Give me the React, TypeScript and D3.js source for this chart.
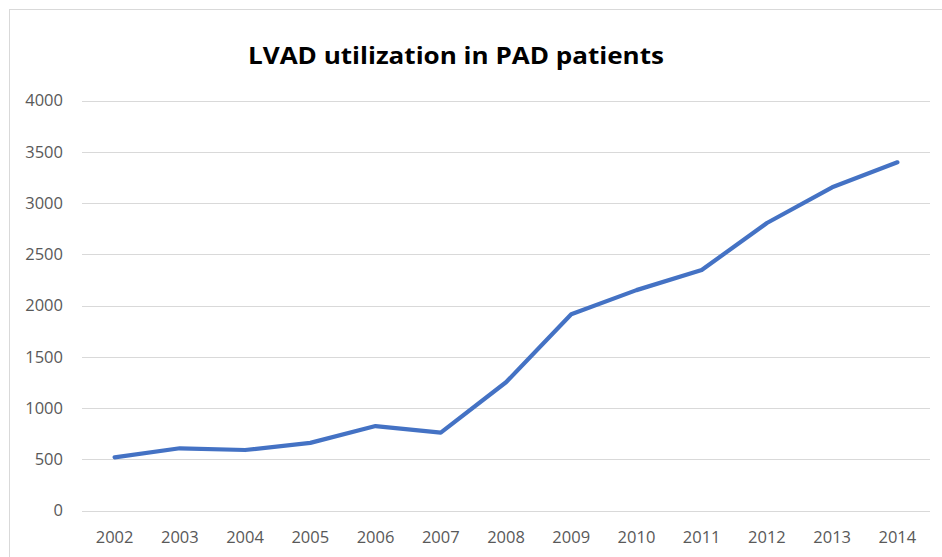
import React from "react";
import * as d3 from "d3";

const years = ["2002","2003","2004","2005","2006","2007","2008","2009","2010","2011","2012","2013","2014"];
const values = [519, 607, 590, 660, 824, 759, 1251, 1915, 2150, 2346, 2805, 3153, 3397];
const yTicks = [0, 500, 1000, 1500, 2000, 2500, 3000, 3500, 4000];
const title = "LVAD utilization in PAD patients";

const W = 942, H = 557;
const plot = { left: 82, right: 930, top: 100.5, bottom: 510.5 };

export default function App() {
  const x = d3.scaleBand<string>().domain(years).range([plot.left, plot.right]);
  const y = d3.scaleLinear().domain([0, 4000]).range([plot.bottom, plot.top]);
  const line = d3.line<number>()
    .x((_, i) => (x(years[i]) as number) + x.bandwidth() / 2)
    .y((d) => y(d));
  const font = "'Open Sans', 'Liberation Sans', sans-serif";
  return (
    <svg width={W} height={H} style={{ position: "absolute", left: 0, top: 0, background: "#fff" }}>
      <rect x={9.5} y={9.5} width={940} height={560} fill="#fff" stroke="#d9d9d9" strokeWidth={1} />
      <text x={456} y={64} textAnchor="middle" fontFamily={font} fontWeight="bold" fontSize={23.5}
        textLength={416} lengthAdjust="spacingAndGlyphs" fill="#000">{title}</text>
      {yTicks.map((t) => (
        <g key={t}>
          <line x1={plot.left} x2={plot.right} y1={Math.round(y(t)) + 0.5} y2={Math.round(y(t)) + 0.5}
            stroke="#d9d9d9" strokeWidth={1} />
          <text x={63} y={y(t)} dy="0.35em" textAnchor="end" fontFamily={font} fontSize={16.5} fill="#595959">{t}</text>
        </g>
      ))}
      {years.map((yr) => (
        <text key={yr} x={(x(yr) as number) + x.bandwidth() / 2} y={537} dy="0.35em" textAnchor="middle"
          fontFamily={font} fontSize={16.5} fill="#595959">{yr}</text>
      ))}
      <path d={line(values) || ""} fill="none" stroke="#4472C4" strokeWidth={4.2}
        strokeLinejoin="round" strokeLinecap="round" />
    </svg>
  );
}
